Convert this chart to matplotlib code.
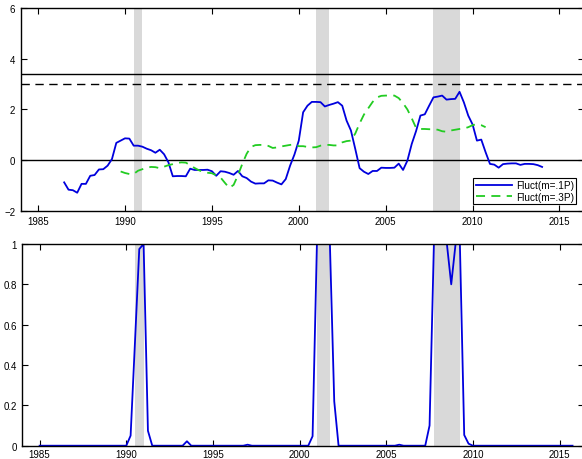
import matplotlib
matplotlib.use('Agg')
import matplotlib.pyplot as plt

plt.rcParams['font.family'] = ['Liberation Sans', 'DejaVu Sans']
plt.rcParams['font.size'] = 7.0

# fluctuation index, m=.1P, quarterly from 1986Q3
t_fluct1_start = 1986.5
fluct1 = [-0.88, -1.17, -1.19, -1.29, -0.94, -0.94, -0.62, -0.59,
          -0.37, -0.36, -0.22, 0.04, 0.68, 0.77, 0.86, 0.85,
          0.57, 0.57, 0.53, 0.45, 0.39, 0.29, 0.41, 0.23,
          -0.09, -0.64, -0.63, -0.63, -0.64, -0.34, -0.39, -0.39,
          -0.39, -0.38, -0.44, -0.62, -0.44, -0.46, -0.51, -0.58,
          -0.43, -0.64, -0.71, -0.85, -0.93, -0.92, -0.92, -0.80,
          -0.81, -0.89, -0.96, -0.75, -0.22, 0.22, 0.77, 1.89,
          2.15, 2.30, 2.30, 2.29, 2.12, 2.18, 2.23, 2.29,
          2.15, 1.56, 1.17, 0.44, -0.32, -0.46, -0.55, -0.43,
          -0.43, -0.30, -0.31, -0.31, -0.30, -0.14, -0.39, -0.02,
          0.64, 1.15, 1.76, 1.81, 2.15, 2.48, 2.51, 2.55,
          2.39, 2.41, 2.42, 2.70, 2.28, 1.76, 1.41, 0.77,
          0.81, 0.31, -0.15, -0.18, -0.30, -0.16, -0.14, -0.13,
          -0.13, -0.19, -0.15, -0.15, -0.16, -0.20, -0.27]

# fluctuation index, m=.3P, quarterly from 1989Q4
t_fluct3_start = 1989.75
fluct3 = [-0.45, -0.51, -0.55, -0.55, -0.42, -0.36, -0.30, -0.27,
          -0.28, -0.32, -0.26, -0.20, -0.16, -0.11, -0.09, -0.10,
          -0.20, -0.31, -0.40, -0.47, -0.50, -0.52, -0.60, -0.69,
          -0.90, -1.10, -0.98, -0.60, -0.15, 0.25, 0.52, 0.59,
          0.60, 0.60, 0.56, 0.48, 0.50, 0.54, 0.57, 0.60,
          0.62, 0.55, 0.55, 0.52, 0.50, 0.51, 0.57, 0.60,
          0.60, 0.58, 0.58, 0.70, 0.75, 0.77, 1.05, 1.45,
          1.80, 2.05, 2.30, 2.48, 2.54, 2.55, 2.55, 2.55,
          2.45, 2.25, 2.00, 1.65, 1.27, 1.23, 1.23, 1.22,
          1.22, 1.20, 1.14, 1.12, 1.17, 1.20, 1.23, 1.25,
          1.30, 1.38, 1.42, 1.38, 1.30]

# recession probability, quarterly from 1985Q1
t_prob_start = 1985.0
prob = [0, 0, 0, 0,  0, 0, 0, 0,  0, 0, 0, 0,  0, 0, 0, 0,  0, 0, 0, 0,   # 1985-89
        0, 0.05, 0.51, 0.975,  1.0, 0.074, 0, 0,  0, 0, 0, 0,               # 1990-92
        0, 0, 0.022, 0,  0, 0, 0, 0,  0, 0, 0, 0,  0, 0, 0, 0,              # 1993-96
        0.005, 0, 0, 0,  0, 0, 0, 0,  0, 0, 0, 0,  0, 0, 0.0, 0.047,       # 1997-2000
        1.0, 1.0, 1.0, 1.0,  0.22, 0, 0, 0,  0, 0, 0, 0,                    # 2001-03
        0, 0, 0, 0,  0, 0, 0, 0.005,  0, 0, 0, 0,                           # 2004-06
        0, 0, 0.10, 1.0,  1.0, 1.0, 1.0, 0.80,  1.0, 1.0, 0.053, 0.01,     # 2007-09
        0, 0, 0, 0,  0, 0, 0, 0,  0, 0, 0, 0,  0, 0, 0, 0,  0, 0, 0, 0,     # 2010-14
        0, 0, 0, 0]                                                          # 2015

recessions = [(1990.5, 1991.0), (2001.0, 2001.75), (2007.75, 2009.25)]
crit_solid = 3.4
crit_dashed = 3.0
xticks = [1985, 1990, 1995, 2000, 2005, 2010, 2015]

t1 = [t_fluct1_start + 0.25 * i for i in range(len(fluct1))]
t3 = [t_fluct3_start + 0.25 * i for i in range(len(fluct3))]
tp = [t_prob_start + 0.25 * i for i in range(len(prob))]

fig = plt.figure(figsize=(5.82, 4.60), dpi=100)
ax1 = fig.add_axes([0.0356, 0.5398, 0.9675, 0.44])
ax2 = fig.add_axes([0.0383, 0.0289, 0.9648, 0.4385])

for ax in (ax1, ax2):
    for a, b in recessions:
        ax.axvspan(a, b, color='#d9d9d9', lw=0, zorder=0)

# top panel
ax1.axhline(crit_solid, color='k', lw=1.0)
ax1.axhline(crit_dashed, color='k', lw=1.0, ls=(0, (6, 4)))
ax1.axhline(0, color='k', lw=1.0)
ax1.plot(t1, fluct1, color='#0000dd', lw=1.3, label='Fluct(m=.1P)')
ax1.plot(t3, fluct3, color='#22cc22', lw=1.3, ls=(0, (5, 3.5)), label='Fluct(m=.3P)')
ax1.set_ylim(-2, 6)
ax1.set_yticks([-2, 0, 2, 4, 6])
ax1.set_yticklabels(['\u22122', '0', '2', '4', '6'])
leg = ax1.legend(loc='lower right', bbox_to_anchor=(0.9935, 0.012), fontsize=7.2,
                 frameon=True, fancybox=False, edgecolor='k', framealpha=1,
                 handlelength=3.6, borderpad=0.25, labelspacing=0.15, handletextpad=0.4,
                 borderaxespad=0.4)
leg.get_frame().set_linewidth(0.8)

# bottom panel
ax2.plot(tp, prob, color='#0000dd', lw=1.3)
ax2.set_ylim(0, 1)
ax2.set_yticks([0, 0.2, 0.4, 0.6, 0.8, 1])
ax2.set_yticklabels(['0', '0.2', '0.4', '0.6', '0.8', '1'])

for ax in (ax1, ax2):
    ax.set_xlim(1984, 2016.4)
    ax.set_xticks(xticks)
    ax.tick_params(direction='in', length=4.5, width=0.8, top=True, right=True,
                   labelsize=7.0, pad=4, colors='k')
    for s in ax.spines.values():
        s.set_linewidth(1.0)
ax2.tick_params(axis='x', pad=2.5)

fig.savefig('out.png', dpi=100)
